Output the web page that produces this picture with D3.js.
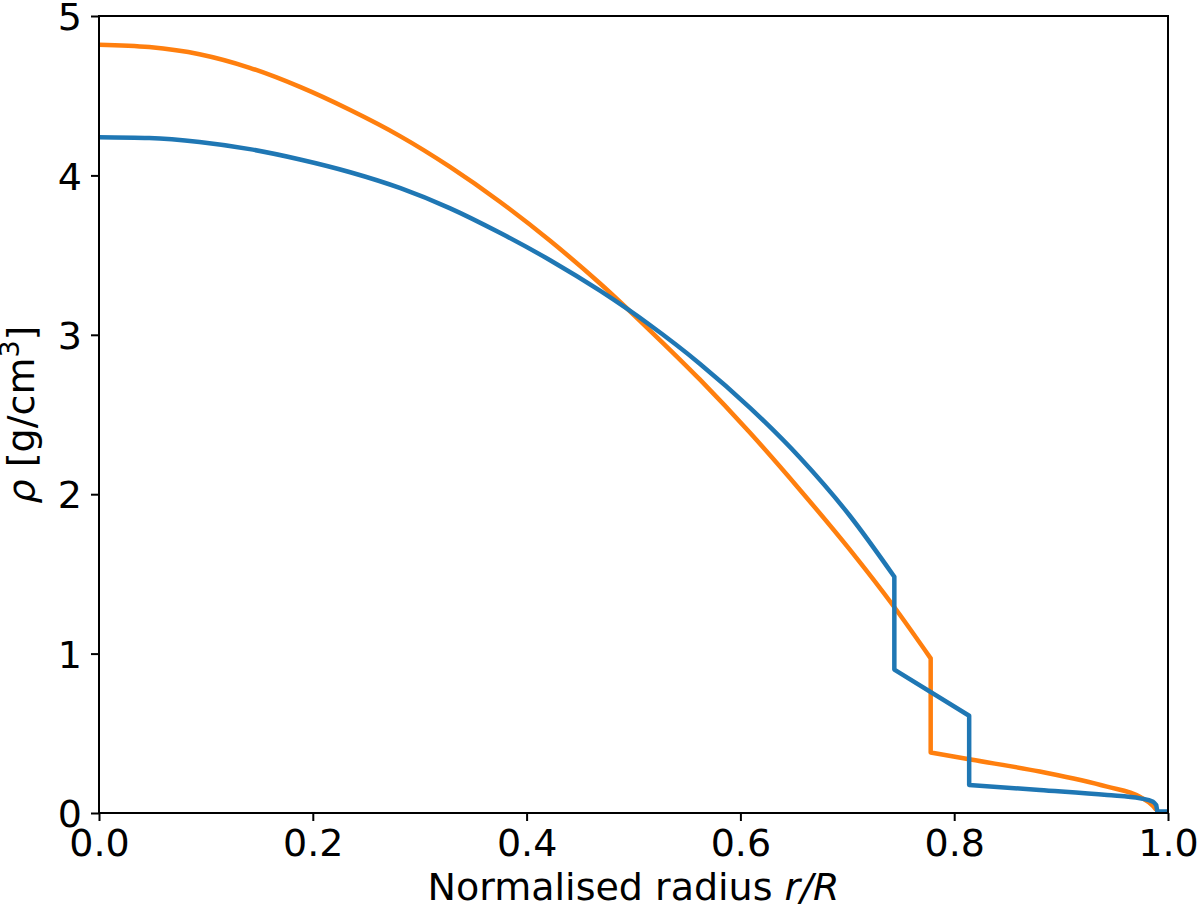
<!DOCTYPE html>
<html>
<head>
<meta charset="utf-8">
<script src="https://cdn.jsdelivr.net/npm/d3@7"></script>
<style>
  html, body { margin: 0; padding: 0; background: #fff; }
  svg { display: block; }
  text { font-family: "DejaVu Sans", sans-serif; fill: #000; }
</style>
</head>
<body>
<svg id="chart" width="1200" height="911"></svg>
<script>
// ---- Data ----
const xTicks = [0.0, 0.2, 0.4, 0.6, 0.8, 1.0];
const yTicks = [0, 1, 2, 3, 4, 5];
const xLabel = "Normalised radius";
const yLabelUnit = "g/cm";

// Orange series: radius r/R and density (g/cm^3); segment ids split the curve at jumps
const orangeR   = [0.000, 0.047, 0.094, 0.141, 0.188, 0.235, 0.282, 0.328, 0.375, 0.422, 0.469, 0.515, 0.562, 0.609, 0.656, 0.702, 0.743, 0.778,
                   0.778, 0.814, 0.880, 0.943, 0.974, 0.986, 0.989];
const orangeRho = [4.82, 4.805, 4.76, 4.675, 4.555, 4.41, 4.245, 4.055, 3.835, 3.59, 3.32, 3.03, 2.72, 2.385, 2.025, 1.655, 1.30, 0.97,
                   0.38, 0.337, 0.26, 0.165, 0.10, 0.044, 0.02];
const orangeSeg = [0, 0, 0, 0, 0, 0, 0, 0, 0, 0, 0, 0, 0, 0, 0, 0, 0, 0,
                   1, 1, 1, 1, 1, 1, 1];

// Blue series
const blueR   = [0.000, 0.047, 0.094, 0.141, 0.188, 0.235, 0.282, 0.328, 0.375, 0.422, 0.469, 0.515, 0.562, 0.609, 0.656, 0.702, 0.744,
                 0.744, 0.814,
                 0.814, 0.880, 0.943, 0.974, 0.986, 0.989,
                 0.990, 1.000];
const blueRho = [4.24, 4.235, 4.21, 4.165, 4.10, 4.02, 3.92, 3.795, 3.64, 3.468, 3.275, 3.063, 2.819, 2.542, 2.227, 1.868, 1.482,
                 0.90, 0.61,
                 0.176, 0.144, 0.113, 0.092, 0.071, 0.05,
                 0.01, 0.01];
const blueSeg = [0, 0, 0, 0, 0, 0, 0, 0, 0, 0, 0, 0, 0, 0, 0, 0, 0,
                 1, 1,
                 2, 2, 2, 2, 2, 2,
                 3, 3];

const seriesColors = { orange: "#ff7f0e", blue: "#1f77b4" };

// ---- Layout ----
const svg = d3.select("#chart");
const margin = { left: 99, right: 1168, top: 16, bottom: 813 };

const x = d3.scaleLinear().domain([0, 1]).range([margin.left, margin.right]);
const y = d3.scaleLinear().domain([0, 5]).range([margin.bottom, margin.top]);

function buildPath(rs, rhos, segs) {
  const pts = rs.map((r, i) => ({ r, v: rhos[i], s: segs[i] }));
  const groups = d3.groups(pts, d => d.s).map(g => g[1]);
  const segLine = d3.line().x(d => x(d.r)).y(d => y(d.v)).curve(d3.curveMonotoneX);
  const linLine = d3.line().x(d => x(d.r)).y(d => y(d.v));
  let d = "";
  groups.forEach((g, i) => {
    const p = g.length > 2 ? segLine(g) : linLine(g);
    d += i === 0 ? p : "L" + p.slice(1);
  });
  return d;
}

// clip to axes
svg.append("defs").append("clipPath").attr("id", "clip")
  .append("rect").attr("x", margin.left).attr("y", margin.top)
  .attr("width", margin.right - margin.left).attr("height", margin.bottom - margin.top);

const plot = svg.append("g").attr("clip-path", "url(#clip)");

plot.append("path")
  .attr("d", buildPath(orangeR, orangeRho, orangeSeg))
  .attr("fill", "none").attr("stroke", seriesColors.orange)
  .attr("stroke-width", 4.5).attr("stroke-linejoin", "round").attr("stroke-linecap", "butt");

plot.append("path")
  .attr("d", buildPath(blueR, blueRho, blueSeg))
  .attr("fill", "none").attr("stroke", seriesColors.blue)
  .attr("stroke-width", 4.5).attr("stroke-linejoin", "round").attr("stroke-linecap", "butt");

// ---- Axes ----
const fmtX = d3.format(".1f");
const xAxis = d3.axisBottom(x).tickValues(xTicks).tickFormat(fmtX).tickSizeInner(8).tickSizeOuter(0).tickPadding(8);
const yAxis = d3.axisLeft(y).tickValues(yTicks).tickFormat(d3.format("d")).tickSizeInner(8).tickSizeOuter(0).tickPadding(9);

const gx = svg.append("g").attr("transform", `translate(0,${margin.bottom})`).call(xAxis);
const gy = svg.append("g").attr("transform", `translate(${margin.left},0)`).call(yAxis);

[gx, gy].forEach(g => {
  g.select(".domain").remove();
  g.selectAll(".tick line").attr("stroke", "#000").attr("stroke-width", 2);
  g.selectAll(".tick text").style("font-family", "'DejaVu Sans', sans-serif").style("font-size", "38px").attr("fill", "#000");
});
gy.selectAll(".tick text").attr("dy", "0.36em");

// frame
svg.append("rect")
  .attr("x", margin.left).attr("y", margin.top)
  .attr("width", margin.right - margin.left).attr("height", margin.bottom - margin.top)
  .attr("fill", "none").attr("stroke", "#000").attr("stroke-width", 2);

// x label
const xl = svg.append("text")
  .attr("x", (margin.left + margin.right) / 2).attr("y", 900)
  .attr("text-anchor", "middle").style("font-size", "38px");
xl.append("tspan").text(xLabel + " ");
xl.append("tspan").style("font-style", "italic").text("r/R");

// y label
const yl = svg.append("text")
  .attr("transform", `translate(34,${(margin.top + margin.bottom) / 2}) rotate(-90)`)
  .attr("text-anchor", "middle").style("font-size", "38px");
yl.append("tspan").style("font-style", "italic").text("ρ");
yl.append("tspan").text(" [" + yLabelUnit);
yl.append("tspan").attr("dy", -15).style("font-size", "27px").text("3");
yl.append("tspan").attr("dy", 15).text("]");
</script>
</body>
</html>
